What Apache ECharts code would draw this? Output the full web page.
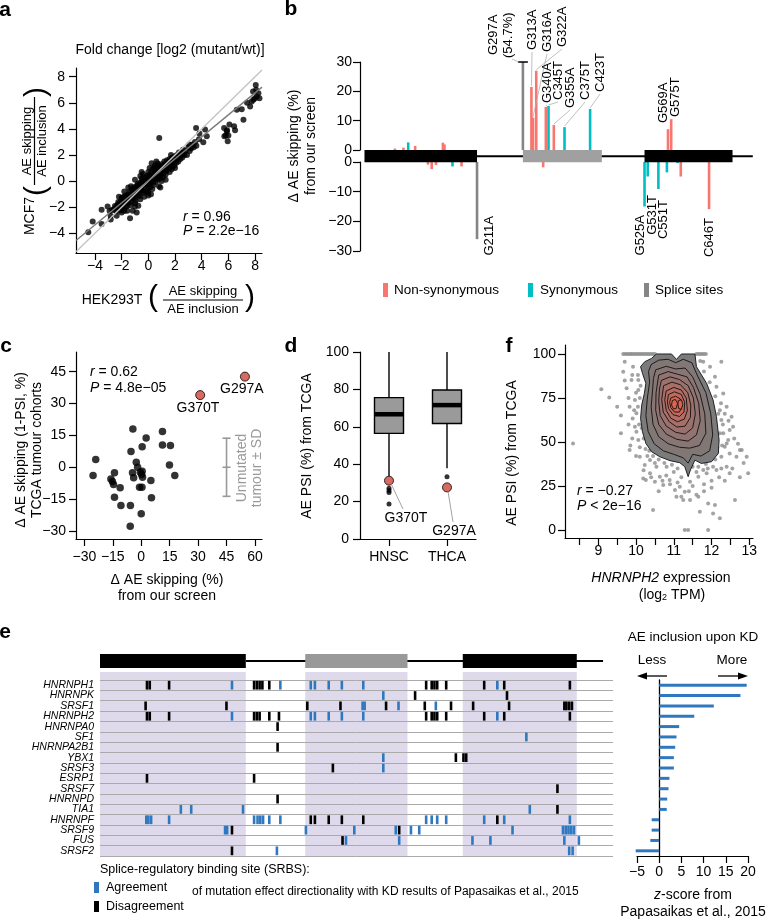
<!DOCTYPE html>
<html><head><meta charset="utf-8">
<script src="https://cdn.jsdelivr.net/npm/echarts@6/dist/echarts.min.js"></script>
<style>html,body{margin:0;padding:0;background:#fff}#c{width:767px;height:920px}</style>
</head><body><div id="c"></div>
<script>
const F = "'Liberation Sans', Arial, Helvetica, sans-serif";
const FS = 14;
const mfmt = v => (v < 0 ? '\u2212' + Math.abs(v) : String(v));

// ---------------- Panel a ----------------
const aPoints = [
[-4.5,-3.92],[-4.17,-3.1],[-3.5,-3.28],[-3.5,-2.19],[-3.05,-1.94],[-2.82,-2.65],[-2.82,-2.95],[-2.37,-2.65],[-2.12,-2.02],[-2.0,-2.4],[-1.58,-2.27],[-1.37,-2.85],[-1.17,-2.27],[-0.87,-2.4],[-0.75,-1.89],
[-2.9,-2.3],[-2.7,-2.2],[-2.6,-2.2],[-2.5,-1.9],[-2.4,-2.3],[-2.3,-1.8],[-2.2,-2.0],[-2.2,-1.2],[-2.1,-1.6],[-2.0,-2.2],[-1.9,-1.5],[-1.9,-1.9],[-1.8,-1.2],[-1.8,-2.3],[-1.8,-0.8],[-1.7,-1.6],[-1.7,-1.1],[-1.6,-1.9],[-1.6,-1.4],[-1.5,-1.0],[-1.5,-1.7],[-1.5,-0.5],[-1.4,-1.3],[-1.4,-0.8],[-1.3,-1.6],[-1.3,-1.1],[-1.2,-0.7],[-1.2,-1.4],[-1.1,-1.0],[-1.1,-0.5],[-1.0,-1.3],[-1.0,-0.8],[-1.0,-1.7],[-1.0,0.1],[-0.9,-0.4],[-0.9,-1.1],[-0.8,-0.7],[-0.8,-0.2],[-0.7,-1.0],[-0.7,-0.5],[-0.6,-0.1],[-0.6,-0.8],[-0.6,-1.4],[-0.6,0.4],[-0.5,-0.4],[-0.5,0.2],[-0.5,0.7],[-0.4,-0.7],[-0.4,-0.1],[-0.3,0.3],[-0.3,-0.4],[-0.3,-1.2],[-0.2,0.0],[-0.2,-0.8],[-0.1,0.4],[-0.1,-0.3],[0.0,0.1],[0.0,-0.5],[0.0,0.7],[0.0,-1.1],[0.1,0.3],[0.1,-0.2],[0.1,1.0],[0.2,0.6],[0.2,-0.1],[0.2,-1.0],[0.3,0.9],[0.3,0.2],[0.3,-0.6],[0.4,0.5],[0.4,-0.3],[0.5,0.8],[0.5,0.2],[0.5,1.2],[0.6,1.1],[0.6,0.5],[0.6,1.5],[0.7,0.1],[0.7,0.8],[0.8,1.2],[0.8,0.4],[0.8,-0.4],[0.9,0.9],[0.9,0.2],[0.9,-0.5],[1.0,1.3],[1.0,0.6],[1.1,1.0],[1.1,0.3],[1.2,1.5],[1.2,0.8],[1.3,1.2],[1.3,0.5],[1.3,0.1],[1.4,1.6],[1.4,0.9],[1.5,1.3],[1.6,1.0],[1.6,1.7],[1.6,0.7],[1.7,1.4],[1.8,1.1],[1.8,1.8],[1.9,1.5],[2.0,1.9],[2.1,1.4],[2.2,1.8],[2.3,2.2],[2.4,1.7],[2.5,2.0],[2.6,2.4],[2.7,2.0],[2.8,2.3],[3.0,2.6],[3.1,2.3],[3.3,2.8],[3.5,3.0],[3.6,2.7],[3.8,3.2],
[-2.45,-2.05],[-2.35,-1.95],[-2.25,-1.6],[-2.15,-2.25],[-2.05,-1.75],[-1.95,-1.25],[-1.85,-1.65],[-1.75,-2.0],[-1.65,-1.25],[-1.55,-1.55],[-1.45,-1.15],[-1.35,-1.85],[-1.25,-0.95],[-1.15,-1.25],[-1.05,-0.6],[-0.95,-1.5],[-0.85,-0.95],[-0.75,-0.3],[-0.65,-1.15],[-0.55,-0.6],[-0.45,0.0],[-0.35,-0.9],[-0.25,-0.25],[-0.15,0.15],[-0.05,-0.75],[0.05,0.45],[0.15,-0.45],[0.25,0.35],[0.35,-0.1],[0.45,1.0],[0.55,-0.05],[0.65,0.75],[0.75,0.3],[0.85,0.95],[0.95,0.45],[1.05,1.1],[1.15,0.6],[1.25,1.3],[1.35,0.8],[1.45,1.1],[1.55,1.5],[1.65,1.2],[1.75,0.9],[1.85,1.6],[1.95,1.2],[2.05,1.7],[2.15,2.0],[2.25,1.5],[2.35,1.95],[2.45,2.2],[2.55,1.8],[2.65,2.15],[2.9,2.0],[3.2,2.5],[3.4,2.6],[2.0,1.0],[1.0,0.0],[0.0,-0.9],[-1.0,-1.95],[-2.0,-1.3],[-0.4,0.55],[0.7,1.35],[1.7,2.0],[-1.3,-0.4],
[0.82,3.31],[0.25,1.36],[3.58,4.07],[3.83,3.64],[4.25,3.95],[4.38,3.44],[4.12,2.98],[3.07,2.81],
[5.68,4.07],[5.88,3.82],[5.7,3.44],[6.0,3.49],[6.43,4.2],[6.5,3.89],[6.08,4.33],[5.95,3.06],[5.9,3.9],[5.8,3.5],
[7.13,4.71],[6.63,5.47],[7.0,5.5],[7.4,6.0],[7.63,5.72],[7.75,6.1],[7.88,6.23],[8.0,6.35],[8.13,6.48],[8.25,6.73],[8.33,6.35],[7.85,6.87],[8.08,7.0],[8.05,7.36]
];
const aIdentity = [[-5.42,-5.42],[8.52,8.52]];
const aFit = [[-5.42,-4.55],[8.52,7.2]];
const aTicks = [-4,-2,0,2,4,6,8];

// ---------------- Panel b ----------------
// gene parts: [start, end, kind] kind 0 = intron line, 1 = constitutive exon, 2 = alternative exon (AE)
const geneParts = [[211,728,0],[0,211,1],[297,445,2],[525,690,1]];
const bNonSyn = [[57,0.5],[73,0.8],[95,1.4],[147,2.5],[150,1.9],[313,21.5],[316,11],[322,27],[340,14.7],[355,8.5],[569,7.1],[575,10.5],
                 [119,-0.9],[126,-2.4],[134,-1.0],[182,-1.5],[335,-1.8],[593,-4.9],[646,-15.9]];
const bSyn = [[82,2.6],[345,15],[375,7.8],[423,14],[165,-1.5],[525,-15],[531,-4.9],[551,-9.1],[567,-3.5],[587,-0.4]];
const bSplice = [[297,54.7],[211,-26]];
const bCategories = ['Non-synonymous','Synonymous','Splice sites'];

// ---------------- Panel c ----------------
const cPoints = [[-25.4,-3.9],[-24.0,3.6],[-14.1,-2.6],[-16.0,-5.5],[-15.2,-6.7],[-14.6,-8.1],[-11.1,-9.7],[-14.1,-14.1],[-10.7,-18],[-5.7,-18],[-5.8,-27.8],[-4.4,18],[-5.4,7.4],[-4.6,-2.6],[-4.0,-5.0],[-2.6,2.4],[-1.9,0],[0.5,9.7],[2.6,13.8],[-0.5,-2.3],[0.5,-1.9],[0.2,-3.4],[0.7,-4.7],[-0.9,-9.4],[0.4,-9.4],[0,-21.9],[5.1,-6.2],[5.4,-14.4],[11.2,16.9],[11.2,10.5],[15.4,10.2],[14.9,1.1],[17.7,-3.9]];
const cHighlight = [[31.1,34.0],[54.7,42.7]];
const cHighlightNames = ['G370T','G297A'];
const cUnmutated = [[45,0,13.7]]; // [x, mean, SD]
const cXTicks = [-30,-15,0,15,30,45,60];
const cYTicks = [-30,-15,0,15,30,45];

// ---------------- Panel d ----------------
const dCats = ['HNSC','THCA'];
const dBox = [[33.5,56.5,66.7,75.6,100],[37.8,61.8,71.6,79.7,100]]; // min, Q1, median, Q3, max
const dOutliers = [[0,27.1],[0,25.9],[0,24.8],[0,18.7],[1,33.3]];
const dHighlight = [[0,31.2],[1,27.6]];
const dHighlightNames = ['G370T','G297A'];

// ---------------- Panel f ----------------
const fPoints = [
[9.66,100],[9.71,100],[9.76,100],[9.81,100],[9.86,100],[9.9,100],[9.95,100],[10.0,100],[10.05,100],[10.1,100],[10.15,100],[10.2,100],[10.25,100],[10.3,100],[10.35,100],[10.4,100],[10.45,100],[10.5,100],[11.6,100],[11.65,100],[11.7,100],[11.75,100],[11.8,100],[11.85,100],
[8.33,49.2],[9.08,79.9],[9.29,75.3],[9.83,45.4],[9.66,89.9],[9.75,80.5],[9.88,85.2],[9.7,95.6],[9.97,73.8],[10.01,66.3],[9.97,58.7],[10.06,51.1],[10.1,41.6],[10.23,36.9],[10.37,32.2],[10.5,27.4],[10.63,30.3],[10.89,28.4],[11.16,24.6],[11.2,18.9],[11.25,17.0],[11.43,17.0],[11.65,18.9],[11.69,10.4],[11.91,15.1],[12.09,14.2],[12.22,6.6],[12.04,9.4],[11.29,0],[11.38,0],[11.91,0],[10.45,11.3],[10.19,29.3],[11.65,30.3],[11.87,32.2],[12.13,34.1],[12.4,36.0],[12.66,41.6],[12.8,45.4],[12.93,41.6],[12.97,32.2],[12.62,17.0],[12.48,43.5],[12.44,51.1],[12.57,58.7],[12.53,64.4],[12.4,70.0],[12.31,77.6],[12.26,95.6],[12.09,87.1],[11.96,92.8],[11.78,95.6],[12.31,54.9],[12.35,47.3],[12.26,41.6],[12.04,36.0],[11.78,34.1],[11.43,27.4],[10.81,36.0],[10.54,36.0],[10.37,39.7],[10.01,55.8],[9.91,63.4],[9.83,70.0],[10.06,79.5],[10.06,85.2],[9.92,92.8],[10.26,28.4],[10.72,25.5],[11.03,22.7],[11.29,21.7],[11.07,18.9],[12.26,62.5],[12.48,56.8],[12.22,68.1],[12.13,81.4],[12.4,49.2],[12.75,45.4],[12.26,35.0],[12.48,32.2],
[10.05,88],[10.0,78],[9.95,68],[10.08,60],[12.25,72],[12.3,60],[12.28,48],[12.1,40],[11.9,35],[11.6,33],[10.5,38],[10.3,42],[10.1,47],[9.9,52],[11.0,33],[11.2,30],[10.8,31],[11.5,25],[11.8,22],[12.0,28],[10.6,22],[10.9,26],[9.8,60],[9.6,55],[9.5,70],
[10.1,75],[10.05,70],[10.12,82],[10.15,58],[10.2,52],[10.25,46],[10.35,45],[10.45,42],[10.6,40],[10.75,38],[10.95,37],[11.1,35],[11.5,36],[11.65,36],[11.85,37.5],[12.05,42],[12.15,47],[12.22,55],[12.18,66],[12.1,76],[11.95,84],[11.8,90],[11.7,96],[10.3,93],[10.25,88],[12.35,66],[12.45,62],[12.6,52],[12.7,49],[12.85,38],[9.7,85],[9.8,75],[9.9,88],[9.6,65],[9.85,48],[10.0,42],[10.2,34],[10.4,30],[10.7,28],[11.1,27],[11.4,22],[11.6,20],[11.8,26],[12.0,24],[12.2,30],[12.35,28],[12.55,35],[12.75,30]
];
const fContours = [
[[10.54,100],[10.94,100],[11.07,96.9],[11.2,100],[11.56,100],[11.6,92.8],[11.87,83.3],[12.04,73.9],[12.13,64.4],[12.2,51.1],[12.18,43.5],[12.0,38.8],[11.73,37.8],[11.56,39.7],[11.44,34.1],[11.38,30.3],[11.29,36.0],[11.16,38.2],[10.9,39.4],[10.63,41.6],[10.41,44.5],[10.26,49.2],[10.17,55.8],[10.12,63.4],[10.15,71.0],[10.22,77.6],[10.26,83.3],[10.17,89.0],[10.12,92.8],[10.23,95.6],[10.41,97.5]],
[[10.4,94],[10.6,96.5],[10.85,97],[11.05,95],[11.25,97],[11.48,95],[11.62,88],[11.85,78],[11.98,66],[12.03,54],[11.95,45],[11.72,42],[11.5,43],[11.38,38],[11.25,41],[11.0,43],[10.72,45],[10.48,49],[10.32,56],[10.26,65],[10.3,75],[10.36,84],[10.33,90]],
[[10.52,91],[10.8,93],[11.05,91.5],[11.3,92],[11.5,87],[11.7,77],[11.82,66],[11.85,55],[11.68,48],[11.42,46.5],[11.15,47],[10.85,49],[10.6,53],[10.45,60],[10.4,70],[10.44,80],[10.46,86]],
[[10.6,88],[10.85,90],[11.1,88.5],[11.35,87],[11.52,81],[11.66,72],[11.7,62],[11.6,54],[11.38,50.5],[11.08,51.5],[10.8,54.5],[10.6,60],[10.52,68],[10.53,78]],
[[10.67,85],[10.9,87],[11.15,85.5],[11.38,82],[11.52,75],[11.57,66],[11.5,58],[11.3,54.5],[11.05,55.5],[10.8,59],[10.64,65],[10.6,73],[10.62,80]],
[[10.73,82],[10.95,84],[11.18,82.5],[11.37,78],[11.45,71],[11.44,64],[11.3,59],[11.08,58.5],[10.88,61.5],[10.72,67],[10.68,74]],
[[10.8,79],[11.0,81],[11.2,79.5],[11.33,75],[11.36,68],[11.28,63],[11.1,61.5],[10.92,63.5],[10.8,68],[10.76,74]],
[[10.86,77],[11.02,78.5],[11.2,77],[11.29,72.5],[11.27,67],[11.15,64.5],[10.98,65.5],[10.86,69],[10.83,73]],
[[10.92,75],[11.05,76],[11.17,74.5],[11.22,70.5],[11.15,67],[11.02,67],[10.92,69.5],[10.89,72.5]],
[[10.96,73.5],[11.04,74.2],[11.1,72],[11.06,69],[10.99,68.8],[10.94,71]],
[[11.12,73.5],[11.2,74],[11.24,71.5],[11.2,68.5],[11.13,69],[11.11,71.5]]
];
const fXTicks = [8.5,9,9.5,10,10.5,11,11.5,12,12.5,13];
const fXLabels = [9,10,11,12,13];
const fYTicks = [0,25,50,75,100];

// ---------------- Panel e ----------------
const eRows = ['HNRNPH1','HNRNPK','SRSF1','HNRNPH2','HNRNPA0','SF1','HNRNPA2B1','YBX1','SRSF3','ESRP1','SRSF7','HNRNPD','TIA1','HNRNPF','SRSF9','FUS','SRSF2'];
const eAgreeSites = [
 [191,261,305,311,331,350,381,575],
 [410],
 [380,383,432,486],
 [191,305,311,331,350,381,575],
 [],
 [617],
 [],
 [410],
 [410],
 [],
 [],
 [],
 [117,132,207,622],
 [67,70,74,100,223,228,232,236,245,261,472,480,488,501,556,585,680],
 [181,184,298,368,428,450,462,597,670,674,678,682,686],
 [356,433,539,565,672,693],
 [256,679,684]
];
const eDisagreeSites = [
 [68,72,100,223,227,231,235,245,472,480,484,488,501,556,585,680],
 [456,589],
 [66,183,300,348,414,470,508,540,592,672,675,679,683],
 [68,72,100,223,227,231,245,259,472,480,484,488,501,556,585,680],
 [257],
 [],
 [257],
 [515,526,530],
 [337],
 [68,223],
 [662],
 [257],
 [662],
 [305,311,331,350,381,575],
 [191,433],
 [351],
 [191]
];
const eKD = [19.7,18.3,12.3,7.9,4.5,3.9,3.6,3.3,3.3,2.3,2.1,1.8,1.7,-1.7,-1.7,-2.0,-5.3];

// ---------------- colours ----------------
const COL = { red:'#F8766D', teal:'#00BFC4', gray:'#858585', blue:'#2F78C0', hl:'#D0453A', lav:'#DEDAEB' };

const axStyle = (o) => Object.assign({
  axisLine:{show:true, onZero:false, lineStyle:{color:'#000', width:1.2}},
  axisTick:{show:true, length:7, lineStyle:{color:'#000', width:1.2}},
  splitLine:{show:false}
}, o);
const lab = (o) => Object.assign({color:'#000', fontSize:FS, fontFamily:F, formatter:mfmt}, o);
const tk = (vals) => ({show:true, length:7, customValues:vals, lineStyle:{color:'#000', width:1.2}});

const eAgree = eAgreeSites.flatMap((arr, r) => arr.map(p => [p, r]));
const eDis = eDisagreeSites.flatMap((arr, r) => arr.map(p => [p, r]));

function barItem(color, cap) {
  return function (params, api) {
    const pos = api.value(0), v = api.value(1);
    const vv = Math.max(Math.min(v, cap[1]), cap[0]);
    const p0 = api.coord([pos, 0]), p1 = api.coord([pos, vv]);
    const w = 2.6;
    const kids = [{type:'rect', shape:{x:p0[0]-w/2, y:Math.min(p0[1],p1[1]), width:w, height:Math.abs(p1[1]-p0[1])}, style:{fill:color}}];
    if (v > cap[1]) kids.push({type:'line', shape:{x1:p1[0]-5, y1:p1[1], x2:p1[0]+5, y2:p1[1]}, style:{stroke:'#000', lineWidth:1.5}});
    return {type:'group', children:kids};
  };
}
function siteItem(color) {
  return function (params, api) {
    const c = api.coord([api.value(0), api.value(1)]);
    const h = api.size([0, 1])[1];
    return {type:'rect', shape:{x:c[0]-1.3, y:c[1]-h/2+0.8, width:2.6, height:h-1.6}, style:{fill:color}};
  };
}

const option = {
  animation:false,
  backgroundColor:'#fff',
  textStyle:{fontFamily:F},
  grid:[
    {left:76, top:68, width:186, height:185},
    {left:360, top:62, width:396, height:88},
    {left:360, top:162, width:396, height:89},
    {left:76, top:352, width:186, height:187},
    {left:360, top:352, width:116, height:187},
    {left:565, top:345, width:188, height:193},
    {left:100, top:680, width:513, height:176},
    {left:637, top:680, width:111, height:176}
  ],
  xAxis:[
    axStyle({gridIndex:0, type:'value', min:-5.42, max:8.52, axisTick:tk(aTicks), axisLabel:lab({customValues:aTicks, margin:6})}),
    {gridIndex:1, type:'value', min:-8.4, max:734, show:false},
    {gridIndex:2, type:'value', min:-8.4, max:734, show:false},
    axStyle({gridIndex:3, type:'value', min:-34.4, max:63.7, axisTick:tk(cXTicks), axisLabel:lab({customValues:cXTicks, margin:11})}),
    axStyle({gridIndex:4, type:'category', data:dCats, axisTick:{show:true,length:7,alignWithLabel:true,lineStyle:{color:'#000',width:1.2}}, axisLabel:lab({margin:11, formatter:null})}),
    axStyle({gridIndex:5, type:'value', min:8.118, max:13.098, axisTick:tk(fXTicks), axisLabel:lab({customValues:fXLabels, margin:6})}),
    {gridIndex:6, type:'value', min:0, max:742.4, show:false},
    axStyle({gridIndex:7, type:'value', min:-5, max:20, interval:5, axisLabel:lab({margin:9})})
  ],
  yAxis:[
    axStyle({gridIndex:0, type:'value', min:-5.51, max:8.667, axisTick:tk(aTicks), axisLabel:lab({customValues:aTicks, margin:11})}),
    axStyle({gridIndex:1, type:'value', min:0, max:30, interval:10, axisLabel:lab({margin:8})}),
    axStyle({gridIndex:2, type:'value', min:-30, max:0, interval:10, axisLabel:lab({margin:8})}),
    axStyle({gridIndex:3, type:'value', min:-33.8, max:54.3, axisTick:tk(cYTicks), axisLabel:lab({customValues:cYTicks, margin:10})}),
    axStyle({gridIndex:4, type:'value', min:0, max:100, interval:20, axisLabel:lab({margin:11})}),
    axStyle({gridIndex:5, type:'value', min:-4.55, max:105.1, axisTick:tk(fYTicks), axisLabel:lab({customValues:fYTicks, margin:9})}),
    {gridIndex:6, type:'category', data:eRows, inverse:true, axisLine:{show:false}, axisTick:{show:false, interval:0},
      axisLabel:{interval:0, margin:6, fontSize:10.5, fontStyle:'italic', fontFamily:F, color:'#000'},
      splitLine:{show:true, interval:0, lineStyle:{color:'#aaaaaa', width:1}}},
    {gridIndex:7, type:'category', data:eRows, inverse:true, axisLine:{show:true, onZero:true, lineStyle:{color:'#000', width:1.3}}, axisTick:{show:false}, axisLabel:{show:false}, splitLine:{show:false}}
  ],
  series:[
    // a
    {type:'scatter', xAxisIndex:0, yAxisIndex:0, data:aPoints, symbolSize:6, itemStyle:{color:'#000'}, z:2},
    {type:'line', xAxisIndex:0, yAxisIndex:0, data:aIdentity, symbol:'none', lineStyle:{color:'#c4c4c4', width:1.4}, z:3},
    {type:'line', xAxisIndex:0, yAxisIndex:0, data:aFit, symbol:'none', lineStyle:{color:'#7a7a7a', width:1.4}, z:3},
    // b upper / lower
    {type:'custom', name:bCategories[0], xAxisIndex:1, yAxisIndex:1, data:bNonSyn.filter(d=>d[1]>0), renderItem:barItem(COL.red,[0,30]), clip:false, z:2},
    {type:'custom', name:bCategories[1], xAxisIndex:1, yAxisIndex:1, data:bSyn.filter(d=>d[1]>0), renderItem:barItem(COL.teal,[0,30]), clip:false, z:2},
    {type:'custom', name:bCategories[2], xAxisIndex:1, yAxisIndex:1, data:bSplice.filter(d=>d[1]>0), renderItem:barItem(COL.gray,[0,30]), clip:false, z:2},
    {type:'custom', xAxisIndex:2, yAxisIndex:2, data:bNonSyn.filter(d=>d[1]<0), renderItem:barItem(COL.red,[-30,0]), clip:false, z:2},
    {type:'custom', xAxisIndex:2, yAxisIndex:2, data:bSyn.filter(d=>d[1]<0), renderItem:barItem(COL.teal,[-30,0]), clip:false, z:2},
    {type:'custom', xAxisIndex:2, yAxisIndex:2, data:bSplice.filter(d=>d[1]<0), renderItem:barItem(COL.gray,[-30,0]), clip:false, z:2},
    {type:'custom', xAxisIndex:1, yAxisIndex:1, data:geneParts, clip:false, z:5,
      renderItem:function(params, api){
        const s=api.value(0), e=api.value(1), t=api.value(2);
        const p0=api.coord([s,0]), p1=api.coord([e,0]);
        const y0=p0[1];
        if (t===0) return {type:'rect', shape:{x:p0[0], y:y0+5.2, width:p1[0]-p0[0], height:2}, style:{fill:'#000'}};
        return {type:'rect', shape:{x:p0[0], y:y0, width:p1[0]-p0[0], height:12.3}, style:{fill:t===1?'#000':'#a0a0a0'}};
      }},
    // c
    {type:'scatter', xAxisIndex:3, yAxisIndex:3, data:cPoints, symbolSize:7.5, itemStyle:{color:'#000'}},
    {type:'scatter', xAxisIndex:3, yAxisIndex:3, data:cHighlight, symbolSize:9, itemStyle:{color:COL.hl, borderColor:'#000', borderWidth:1}},
    {type:'custom', xAxisIndex:3, yAxisIndex:3, data:cUnmutated, clip:false,
      renderItem:function(params, api){
        const x=api.value(0), m=api.value(1), sd=api.value(2);
        const t=api.coord([x,m+sd]), c=api.coord([x,m]), b=api.coord([x,m-sd]);
        const st={stroke:'#999', lineWidth:1.6};
        return {type:'group', children:[
          {type:'line', shape:{x1:t[0],y1:t[1],x2:b[0],y2:b[1]}, style:st},
          {type:'line', shape:{x1:t[0]-4,y1:t[1],x2:t[0]+4,y2:t[1]}, style:st},
          {type:'line', shape:{x1:b[0]-4,y1:b[1],x2:b[0]+4,y2:b[1]}, style:st},
          {type:'line', shape:{x1:c[0]-4,y1:c[1],x2:c[0]+4,y2:c[1]}, style:st}]};
      }},
    // d
    {type:'custom', xAxisIndex:4, yAxisIndex:4, data:dBox.map((b,i)=>[i].concat(b)), clip:false,
      renderItem:function(params, api){
        const ci=api.value(0), mn=api.value(1), q1=api.value(2), md=api.value(3), q3=api.value(4), mx=api.value(5);
        const c=api.coord([ci,md]); const x=c[0];
        const bw=api.size([1,0])[0]*0.5;
        const y1=api.coord([ci,q1])[1], y3=api.coord([ci,q3])[1], ymn=api.coord([ci,mn])[1], ymx=api.coord([ci,mx])[1];
        const st={stroke:'#000', lineWidth:1.4};
        return {type:'group', children:[
          {type:'line', shape:{x1:x,y1:ymx,x2:x,y2:y3}, style:st},
          {type:'line', shape:{x1:x,y1:y1,x2:x,y2:ymn}, style:st},
          {type:'rect', shape:{x:x-bw/2,y:y3,width:bw,height:y1-y3}, style:{fill:'#9a9a9a', stroke:'#000', lineWidth:1.4}},
          {type:'line', shape:{x1:x-bw/2,y1:c[1],x2:x+bw/2,y2:c[1]}, style:{stroke:'#000', lineWidth:4.5}}]};
      }},
    {type:'scatter', xAxisIndex:4, yAxisIndex:4, data:dOutliers, symbolSize:5, itemStyle:{color:'#000'}, z:3},
    {type:'scatter', xAxisIndex:4, yAxisIndex:4, data:dHighlight, symbolSize:9, itemStyle:{color:COL.hl, borderColor:'#000', borderWidth:1}, z:4},
    // f
    {type:'scatter', xAxisIndex:5, yAxisIndex:5, data:fPoints, symbolSize:4, itemStyle:{color:'#8c8c8c'}, z:2},
    {type:'custom', xAxisIndex:5, yAxisIndex:5, data:fContours.map((r,i)=>[i,0]), clip:false, z:3,
      renderItem:function(params, api){
        const fills=['#7b7b7b','#817876','#887674','#917471','#9b716d','#a76f68','#b46c63','#c2695d','#cf6656','#dd624f','#dd624f'];
        const ring=fContours[params.dataIndex];
        return {type:'polygon', shape:{points:ring.map(p=>api.coord(p))}, style:{fill:fills[params.dataIndex], stroke:'#111', lineWidth:0.9}};
      }},
    // e
    {type:'custom', xAxisIndex:6, yAxisIndex:6, data:geneParts.filter(g=>g[2]>0), clip:false, z:-1,
      renderItem:function(params, api){
        const cs=params.coordSys;
        const p0=api.coord([api.value(0),0]), p1=api.coord([api.value(1),0]);
        return {type:'rect', shape:{x:p0[0], y:cs.y-8, width:p1[0]-p0[0], height:cs.height+9}, style:{fill:COL.lav}};
      }},
    {type:'custom', xAxisIndex:6, yAxisIndex:6, data:geneParts, clip:false, z:5,
      renderItem:function(params, api){
        const cs=params.coordSys;
        const s=api.value(0), e=api.value(1), t=api.value(2);
        const p0=api.coord([s,0]), p1=api.coord([e,0]);
        const y0=cs.y-26;
        if (t===0) return {type:'rect', shape:{x:p0[0], y:y0+6, width:p1[0]-p0[0], height:2}, style:{fill:'#000'}};
        return {type:'rect', shape:{x:p0[0], y:y0, width:p1[0]-p0[0], height:14}, style:{fill:t===1?'#000':'#999'}};
      }},
    {type:'custom', name:'Agreement', xAxisIndex:6, yAxisIndex:6, data:eAgree, clip:false, z:4, renderItem:siteItem(COL.blue)},
    {type:'custom', name:'Disagreement', xAxisIndex:6, yAxisIndex:6, data:eDis, clip:false, z:4, renderItem:siteItem('#000')},
    {type:'bar', xAxisIndex:7, yAxisIndex:7, data:eKD, barWidth:3, itemStyle:{color:COL.blue}, clip:false, z:3}
  ]
};

const chart = echarts.init(document.getElementById('c'), null, {renderer:'canvas', width:767, height:920});
chart.setOption(option);

// ---------- annotations ----------
const G = [];
const R90 = Math.PI/2;
const ital = {i:{fontStyle:'italic', fontSize:14, fontFamily:F, fill:'#000'}};
function txt(x, y, text, o) {
  o = o || {};
  const st = {text:text, fill:o.fill||'#000', fontSize:o.size||FS, fontFamily:F,
    fontStyle:o.italic?'italic':'normal', fontWeight:o.bold?'bold':'normal',
    align:o.align||'center', verticalAlign:o.va||'middle'};
  if (o.rich) st.rich = o.rich;
  G.push({type:'text', x:x, y:y, rotation:o.rot||0, z:50, silent:true, style:st});
}
function ln(x1,y1,x2,y2,o){ o=o||{}; G.push({type:'line', z:49, silent:true, shape:{x1,y1,x2,y2}, style:{stroke:o.stroke||'#000', lineWidth:o.w||1}}); }
function rc(x,y,w,h,fill){ G.push({type:'rect', z:50, silent:true, shape:{x,y,width:w,height:h}, style:{fill}}); }
function px(gi, v){ return chart.convertToPixel({gridIndex:gi}, v); }

// panel letters
txt(5,10,'a',{size:21,bold:true}); txt(291,9,'b',{size:21,bold:true});
txt(6,346,'c',{size:21,bold:true}); txt(291,346,'d',{size:21,bold:true});
txt(509,346,'f',{size:21,bold:true}); txt(5,632,'e',{size:21,bold:true});

// panel a
txt(170,50,'Fold change [log2 (mutant/wt)]',{size:14});
txt(30,216,'MCF7',{rot:R90,size:14});
txt(37,191,'(',{rot:R90,size:30});
txt(27,141,'AE skipping',{rot:R90,size:13});
ln(34.5,97,34.5,185,{w:1.2});
txt(42,141,'AE inclusion',{rot:R90,size:13});
txt(37,92,')',{rot:R90,size:30});
txt(112,300,'HEK293T',{size:14});
txt(153,298,'(',{size:30});
txt(203,291,'AE skipping',{size:13});
ln(163,300,243,300,{w:1.2});
txt(203,309,'AE inclusion',{size:13});
txt(250,298,')',{size:30});
txt(183,217,'{i|r} = 0.96',{align:'left',size:14,rich:ital});
txt(183,231,'{i|P} = 2.2e\u221216',{align:'left',size:14,rich:ital});

// panel b
txt(294,146,'\u0394 AE skipping (%)',{rot:R90,size:14});
txt(311,146,'from our screen',{rot:R90,size:14});
const upLabels = [['G313A',532,50,313,21.5],['G316A',547,52,316,11],['G322A',562,47,322,27],['G340A',547,103,340,14.7],
  ['C345T',558,100,345,15],['G355A',570,108,355,8.5],['C375T',585,100,375,7.8],['C423T',600,92,423,14],['G569A',663,123,null,null],['G575T',675,117,null,null]];
upLabels.forEach(l => {
  txt(l[1], l[2], l[0], {rot:R90, align:'left', size:13});
  if (l[3] !== null) { const p = px(1,[l[3],l[4]]); ln(l[1], l[2]+2, p[0], p[1]-1, {stroke:'#b0b0b0', w:0.8}); }
});
txt(493,55,'G297A',{rot:R90,align:'left',size:13});
txt(508,58,'(54.7%)',{rot:R90,align:'left',size:13});
{ const p = px(1,[297,30]); ln(512,59,p[0]-4,p[1],{stroke:'#b0b0b0', w:0.8}); }
[['G211A',489,216],['G525A',640,215],['G531T',652,195],['C551T',663,200],['C646T',709,218]].forEach(l => txt(l[1],l[2],l[0],{rot:R90,align:'right',size:13}));
rc(383,283,5,14,COL.red); txt(394,290,'Non-synonymous',{align:'left',size:13.5});
rc(528,283,5,14,COL.teal); txt(540,290,'Synonymous',{align:'left',size:13.5});
rc(644,283,5,14,COL.gray); txt(655,290,'Splice sites',{align:'left',size:13.5});

// panel c
txt(21,450,'\u0394 AE skipping (1-PSI, %)',{rot:R90,size:14});
txt(37,450,'TCGA tumour cohorts',{rot:R90,size:14});
txt(167,580,'\u0394 AE skipping (%)',{size:14});
txt(167,596,'from our screen',{size:14});
txt(90,372,'{i|r} = 0.62',{align:'left',size:14,rich:ital});
txt(90,388,'{i|P} = 4.8e\u221205',{align:'left',size:14,rich:ital});
txt(220,389,cHighlightNames[1],{align:'left',size:14});
txt(198,408,cHighlightNames[0],{size:14});
txt(242,468,'Unmutated',{rot:R90,fill:'#999',size:14});
txt(257,468,'tumour \u00b1 SD',{rot:R90,fill:'#999',size:14});

// panel d
txt(307,446,'AE PSI (%) from TCGA',{rot:R90,size:14});
{ const p0 = px(4,dHighlight[0]); ln(p0[0]+2,p0[1]+3,403,509,{stroke:'#999',w:0.9}); txt(406,518,dHighlightNames[0],{size:14});
  const p1 = px(4,dHighlight[1]); ln(p1[0]+1,p1[1]+4,453,522,{stroke:'#999',w:0.9}); txt(454,531,dHighlightNames[1],{size:14}); }

// panel f
txt(512,453,'AE PSI (%) from TCGA',{rot:R90,size:14});
txt(577,491,'{i|r} = \u22120.27',{align:'left',size:14,rich:ital});
txt(577,506,'{i|P} < 2e\u221216',{align:'left',size:14,rich:ital});
txt(661,578,'{i|HNRNPH2} expression',{size:14,rich:ital});
txt(672,595,'(log{s|2} TPM)',{size:14,rich:{s:{fontSize:9,fontFamily:F,verticalAlign:'bottom',fill:'#000'}}});

// panel e
txt(100,870,'Splice-regulatory binding site (SRBS):',{align:'left',size:12.5});
rc(94,882,5,11,COL.blue); txt(106,888,'Agreement',{align:'left',size:12.5});
rc(94,901,5,11,'#000'); txt(106,907,'Disagreement',{align:'left',size:12.5});
txt(192,892,'of mutation effect directionality with KD results of Papasaikas et al., 2015',{align:'left',size:12});
txt(693,637,'AE inclusion upon KD',{size:13.5});
txt(652,660,'Less',{size:13.5}); txt(732,660,'More',{size:13.5});
ln(667,676,644,676,{w:1.3}); G.push({type:'polygon', z:50, silent:true, shape:{points:[[637,676],[647,672.5],[647,679.5]]}, style:{fill:'#000'}});
ln(718,676,741,676,{w:1.3}); G.push({type:'polygon', z:50, silent:true, shape:{points:[[748,676],[738,672.5],[738,679.5]]}, style:{fill:'#000'}});
txt(693,895,'{i|z}-score from',{size:14,rich:ital});
txt(693,912,'Papasaikas et al., 2015',{size:14});

chart.setOption({graphic:G});
</script></body></html>
